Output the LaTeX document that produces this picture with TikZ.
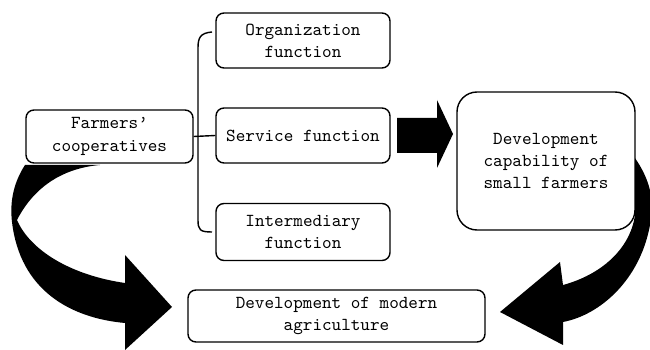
\documentclass[tikz,border=0pt]{standalone}
\usetikzlibrary{positioning}

\tikzset{
  funcbox/.style={draw, line width=0.8pt, rounded corners=1.6mm, align=center,
    inner sep=0pt, font=\ttfamily\fontsize{10.4}{12.6}\selectfont},
  bigarrow/.style={fill=black, draw=none}
}

\begin{document}
\begin{tikzpicture}[x=0.2mm, y=-0.2mm]
  \useasboundingbox (0,0) rectangle (650,350);
  % boxes
  \node[funcbox, minimum width=33.4mm, minimum height=10.6mm] (coop) at (109.5,136.5) {Farmers’\\cooperatives};
  \node[funcbox, minimum width=34.8mm, minimum height=11mm] (org) at (303,40.5) {Organization\\function};
  \node[funcbox, minimum width=34.8mm, minimum height=11mm] (serv) at (303,135.5) {Service function};
  \node[funcbox, minimum width=34.8mm, minimum height=11.4mm] (inter) at (303,232) {Intermediary\\function};
  \node[funcbox, rounded corners=4mm, minimum width=35.6mm, minimum height=27.6mm] (cap) at (546,161) {Development\\capability of\\small farmers};
  \node[funcbox, minimum width=59.4mm, minimum height=10.4mm] (agri) at (336.5,316) {Development of modern\\agriculture};
  % brace
  \draw[line width=0.8pt] (212,32) .. controls (200,33) and (198,38) .. (198,48) -- (198,220)
        .. controls (198,230) and (200,232) .. (212,232);
  \draw[line width=0.8pt] (coop.east) -- (serv.west);
  % straight block arrow
  \fill[bigarrow] (397,118) -- (437,118) -- (437,100) -- (453,134) -- (437,168) -- (437,153) -- (397,153) -- cycle;
  % curved arrow, left
  \fill[bigarrow] (25,165) .. controls (12,185) and (10,205) .. (12,222)
        .. controls (20,290) and (70,318) .. (125,323) -- (125,350) -- (172,307) -- (125,255) -- (125,283)
        .. controls (70,275) and (30,250) .. (17,220)
        .. controls (35,185) and (65,168) .. (100,165) -- cycle;
  % curved arrow, right
  \fill[bigarrow] (635,158) .. controls (650,180) and (655,200) .. (650,225)
        .. controls (640,280) and (600,315) .. (563,322) -- (563,345) -- (500,312) -- (560,262) -- (563,285)
        .. controls (600,275) and (630,250) .. (635,215) -- cycle;
\end{tikzpicture}
\end{document}
